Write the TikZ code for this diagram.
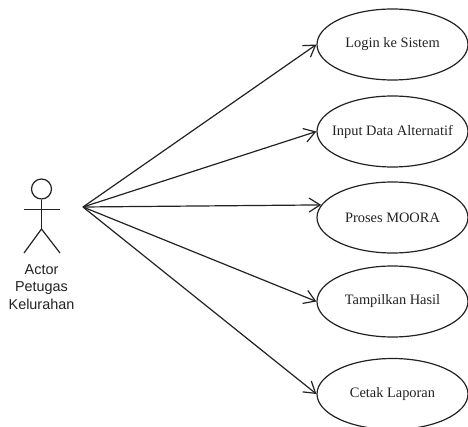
\documentclass[tikz,border=0pt]{standalone}
\usepackage{fontspec}
\setmainfont{Liberation Serif}
\newfontfamily\labelsans{Liberation Sans}
\usetikzlibrary{arrows.meta,shapes.geometric}
\definecolor{ink}{HTML}{222222}
\newcommand{\uctext}[1]{\makebox[0pt]{#1}}
\tikzset{
  usecase/.style={draw=ink,line width=1.2pt,ellipse,minimum width=151pt,minimum height=71pt,inner sep=0pt,text=ink,font=\fontsize{14.4}{16}\selectfont},
  assoc/.style={draw=ink,line width=1.2pt,-{Straight Barb[length=11pt,width=14pt,line width=1.2pt]}},
  limb/.style={draw=ink,line width=1.2pt},
  actorlabel/.style={inner sep=0pt,anchor=base,text=ink,font=\labelsans\fontsize{14.4}{16}\selectfont}
}
\begin{document}
\begin{tikzpicture}[x=1pt,y=-1pt]
\useasboundingbox (0,0) rectangle (468,427);
\node[usecase] (login) at (392.5,44.5) {\uctext{Login ke Sistem}};
\node[usecase] (input) at (392.5,131.5) {\uctext{Input Data Alternatif}};
\node[usecase] (moora) at (392.5,217.5) {\uctext{Proses MOORA}};
\node[usecase] (hasil) at (392.5,301.5) {\uctext{Tampilkan Hasil}};
\node[usecase] (cetak) at (392.5,394) {\uctext{Cetak Laporan}};
% actor
\node[circle,draw=ink,line width=1.2pt,minimum size=20pt,inner sep=0pt] (head) at (41.5,189) {};
\coordinate (hip) at (41.5,229);
\coordinate (armL) at (23.5,209.5);
\coordinate (armR) at (60,209.5);
\coordinate (footL) at (24,253);
\coordinate (footR) at (60,253);
\draw[limb] (head.south) -- (hip);
\draw[limb] (armL) -- (armR);
\draw[limb] (footL) -- (hip) -- (footR);
\node[actorlabel] (a1) at (41.5,275) {Actor};
\node[actorlabel] (a2) at (41.5,292) {Petugas};
\node[actorlabel] (a3) at (41.5,309) {Kelurahan};
\coordinate (apex) at (83,207);
\draw[assoc] (apex) -- (login.west);
\draw[assoc] (apex) -- (input.west);
\draw[assoc] (apex) -- (moora.170);
\draw[assoc] (apex) -- (hasil.west);
\draw[assoc] (apex) -- (cetak.west);
\end{tikzpicture}
\end{document}
